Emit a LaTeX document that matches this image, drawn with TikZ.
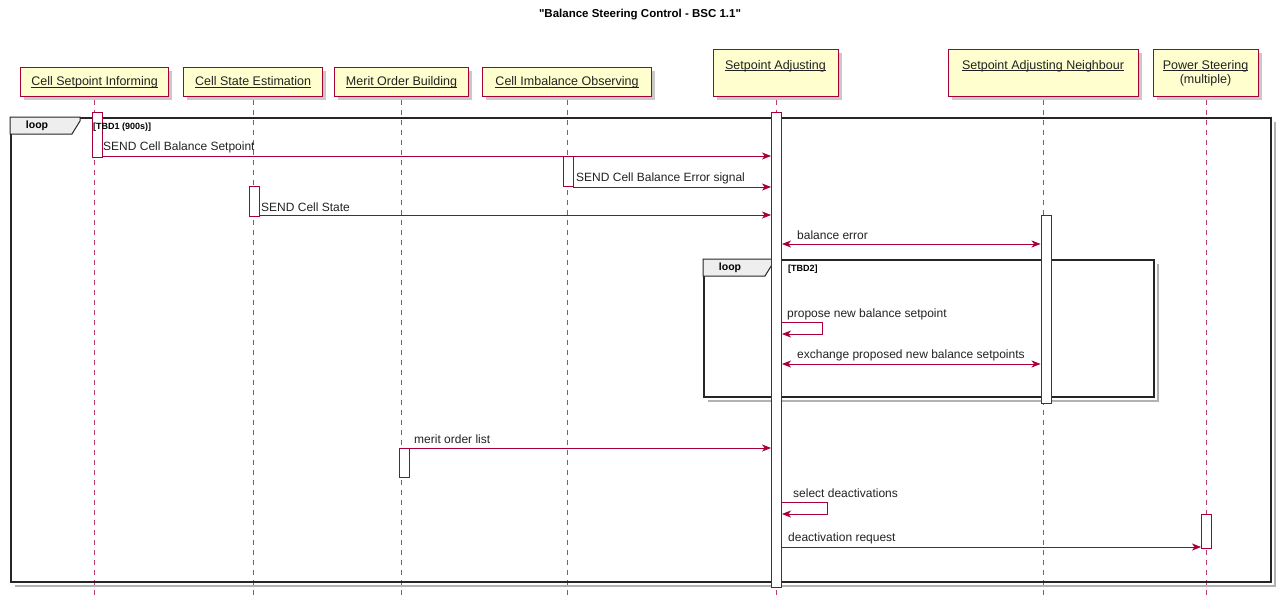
\documentclass[tikz,border=0pt]{standalone}
\usepackage{fontspec}
\setmainfont{Liberation Sans}
\usetikzlibrary{arrows.meta,shadows}
\definecolor{umlred}{HTML}{A80036}
\definecolor{umlfill}{HTML}{FEFECE}
\definecolor{tabgray}{HTML}{EEEEEE}
\definecolor{txt}{HTML}{222222}
\newcommand{\pname}[1]{\underline{\smash{#1}}}
\begin{document}
\begin{tikzpicture}[x=1pt,y=-1pt,
  pbox/.style={draw=umlred, fill=umlfill, line width=1.1pt, anchor=north west, inner sep=0pt,
    drop shadow={shadow xshift=3pt,shadow yshift=-3pt,opacity=0.3,fill=black!70}},
  ptext/.style={font=\fontsize{12.5}{12.5}\selectfont, text=txt, inner sep=0pt},
  lifeline/.style={draw=umlred!75, line width=0.8pt, dash pattern=on 5pt off 5pt},
  actbar/.style={draw=umlred, fill=white, line width=0.9pt, anchor=north, minimum width=10pt, inner sep=0pt},
  msg/.style={draw=umlred, line width=0.9pt, -{Stealth[length=9pt,width=7pt,inset=2.5pt]}},
  bimsg/.style={draw=umlred, line width=0.9pt, {Stealth[length=9pt,width=7pt,inset=2.5pt]}-{Stealth[length=9pt,width=7pt,inset=2.5pt]}},
  mtext/.style={font=\fontsize{12}{12}\selectfont, text=txt, anchor=west, inner sep=0pt},
  frame/.style={draw=black!85, line width=1.8pt, anchor=north west, inner sep=0pt},
  frameshadow/.style={draw=black!30, line width=2pt},
  looptab/.style={draw=black!85, fill=tabgray, line width=1pt},
  looptext/.style={font=\fontsize{10.5}{10.5}\selectfont\bfseries, inner sep=0pt},
  guard/.style={font=\fontsize{9}{9}\selectfont\bfseries, anchor=west, inner sep=0pt}]
\useasboundingbox (0,0) rectangle (1277,598);
\coordinate (bottom) at (0,598);

% title
\node[font=\fontsize{11.5}{11.5}\selectfont\bfseries\addfontfeatures{Ligatures=TeXOff}, inner sep=0pt] (title) at (640,15)
  {"Balance Steering Control - BSC 1.1"};

% participants
\node[pbox, minimum width=148pt, minimum height=29pt] (csi) at (20,67) {};
\node[pbox, minimum width=139pt, minimum height=29pt] (cse) at (183,67) {};
\node[pbox, minimum width=134pt, minimum height=29pt] (mob) at (334,67) {};
\node[pbox, minimum width=169pt, minimum height=29pt] (cio) at (482,67) {};
\node[pbox, minimum width=125pt, minimum height=47pt] (sa) at (713,49) {};
\node[pbox, minimum width=190pt, minimum height=47pt] (san) at (948,49) {};
\node[pbox, minimum width=105pt, minimum height=47pt] (ps) at (1153,49) {};

\node[ptext] (csiT) at ([yshift=-4.5pt]csi.center) {\pname{Cell Setpoint Informing}};
\node[ptext] (cseT) at ([yshift=-4.5pt]cse.center) {\pname{Cell State Estimation}};
\node[ptext] (mobT) at ([yshift=-4.5pt]mob.center) {\pname{Merit Order Building}};
\node[ptext] (cioT) at ([yshift=-4.5pt]cio.center) {\pname{Cell Imbalance Observing}};
\node[ptext] (saT) at (775.5,70) {\pname{Setpoint Adjusting}};
\node[ptext] (sanT) at (1043,70) {\pname{Setpoint Adjusting Neighbour}};
\node[ptext] (psT) at (1205.5,70) {\pname{Power Steering}};
\node[ptext] (psT2) at (1205.5,80) {(multiple)};

% lifelines
\foreach \p in {csi,cse,mob,cio,sa,san,ps}
  \draw[lifeline] ([yshift=-3pt]\p.south) -- (\p.south |- bottom);

% outer loop frame
\node[frame, minimum width=1260pt, minimum height=464pt] (loopA) at (10,117) {};
\draw[frameshadow] ([xshift=3pt,yshift=-5pt]loopA.north east) |- ([xshift=5pt,yshift=-3pt]loopA.south west);
\draw[looptab] (loopA.north west) -- ++(70,0) -- ++(0,4) -- ++(-8,13) -- ++(-62,0) -- cycle;
\node[looptext] (loopAT) at (37,126) {loop};

% inner loop frame
\node[frame, minimum width=450pt, minimum height=137pt] (loopB) at (703,259) {};
\draw[frameshadow] ([xshift=3pt,yshift=-5pt]loopB.north east) |- ([xshift=5pt,yshift=-3pt]loopB.south west);
\draw[looptab] (loopB.north west) -- ++(70,0) -- ++(0,4) -- ++(-8,13) -- ++(-62,0) -- cycle;
\node[looptext] (loopBT) at (730,268) {loop};

% activation bars
\node[actbar, minimum height=45pt] (csiA) at (97,112) {};
\node[actbar, minimum height=30pt] (cseA) at (254,186) {};
\node[actbar, minimum height=30pt] (cioA) at (568,156) {};
\node[actbar, minimum height=29pt] (mobA) at (404,448) {};
\node[actbar, minimum height=475pt] (saA) at (776.5,112) {};
\node[actbar, minimum height=188pt] (sanA) at (1046,215) {};
\node[actbar, minimum height=34pt] (psA) at (1206.5,514) {};

% loop guards
\node[guard] (loopAG) at (93,127) {[TBD1 (900s)]};
\node[guard] (loopBG) at (788,269) {[TBD2]};

% message rows
\coordinate (r1) at (0,156);
\coordinate (r2) at (0,187);
\coordinate (r3) at (0,215);
\coordinate (r4) at (0,244);
\coordinate (r5a) at (0,322);
\coordinate (r5b) at (0,334);
\coordinate (r6) at (0,364);
\coordinate (r7) at (0,448);
\coordinate (r8a) at (0,502);
\coordinate (r8b) at (0,514);
\coordinate (r9) at (0,547);

\draw[msg] (csiA.east |- r1) -- (saA.west |- r1);
\node[mtext] at (103,147) {SEND Cell Balance Setpoint};

\draw[msg] (cioA.east |- r2) -- (saA.west |- r2);
\node[mtext] at (576,178) {SEND Cell Balance Error signal};

\draw[msg] (cseA.east |- r3) -- (saA.west |- r3);
\node[mtext] at (261,207) {SEND Cell State};

\draw[bimsg] (saA.east |- r4) -- (sanA.west |- r4);
\node[mtext] at (797,235) {balance error};

\draw[msg] (saA.east |- r5a) -- ++(40,0) -- ++(0,12) -- (saA.east |- r5b);
\node[mtext] at (787,314) {propose new balance setpoint};

\draw[bimsg] (saA.east |- r6) -- (sanA.west |- r6);
\node[mtext] at (797,355) {exchange proposed new balance setpoints};

\draw[msg] (mobA.east |- r7) -- (saA.west |- r7);
\node[mtext] at (414,439) {merit order list};

\draw[msg] (saA.east |- r8a) -- ++(45,0) -- ++(0,12) -- (saA.east |- r8b);
\node[mtext] at (793,493) {select deactivations};

\draw[msg] (saA.east |- r9) -- (psA.west |- r9);
\node[mtext] at (788,538) {deactivation request};
\end{tikzpicture}
\end{document}
